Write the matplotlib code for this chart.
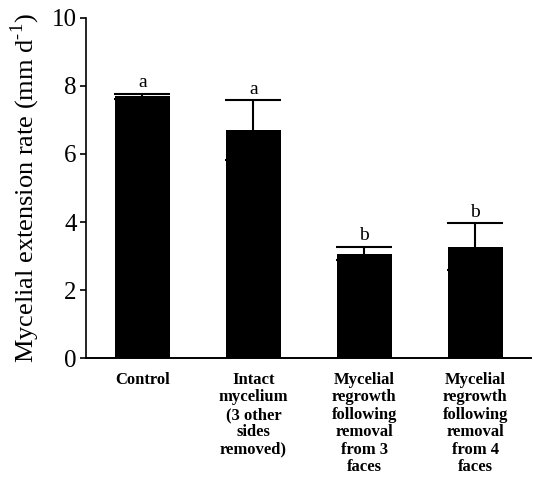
import matplotlib
matplotlib.use("Agg")
import matplotlib.pyplot as plt

categories = ["Control",
              "Intact\nmycelium\n(3 other\nsides\nremoved)",
              "Mycelial\nregrowth\nfollowing\nremoval\nfrom 3\nfaces",
              "Mycelial\nregrowth\nfollowing\nremoval\nfrom 4\nfaces"]
means = [7.69, 6.69, 3.07, 3.27]
errors = [0.07, 0.88, 0.20, 0.69]
letters = ["a", "a", "b", "b"]
yticks = [0, 2, 4, 6, 8, 10]

plt.rcParams['font.family'] = ['Liberation Serif', 'DejaVu Serif']
plt.rcParams['axes.unicode_minus'] = False
fig = plt.figure(figsize=(5.33, 4.94), dpi=100)
ax = fig.add_axes([0.161, 0.275, 0.835, 0.689])

x = list(range(len(categories)))
ax.bar(x, means, width=0.5, color='black', edgecolor='black', linewidth=0)
ax.errorbar(x, means, yerr=errors, fmt='none', ecolor='black',
            elinewidth=1.5, capsize=20, capthick=1.5)
for xi, m, e, l in zip(x, means, errors, letters):
    ax.annotate(l, (xi, m + e), xytext=(0, 2), textcoords='offset points',
                ha='center', va='bottom', fontsize=14)

ax.set_xlim(-0.51, 3.5)
ax.set_ylim(0, 10)
ax.set_yticks(yticks)
ax.set_yticklabels([str(t) for t in yticks], fontsize=18)
ax.set_xticks(x)
ax.set_xticklabels(categories, fontsize=12, fontweight='bold', va='top',
                   linespacing=1.12)
ax.tick_params(axis='x', length=0, pad=10)
ax.tick_params(axis='y', direction='out', length=4.5, width=1.2, pad=2)
ax.spines['top'].set_visible(False)
ax.spines['right'].set_visible(False)
ax.spines['left'].set_linewidth(1.2)
ax.spines['bottom'].set_linewidth(1.4)
ax.set_ylabel("Mycelial extension rate (mm d$^{\\mathregular{\u2010}\\mathregular{1}}$)",
              fontsize=19, labelpad=7)

fig.savefig("out.png", dpi=100)
